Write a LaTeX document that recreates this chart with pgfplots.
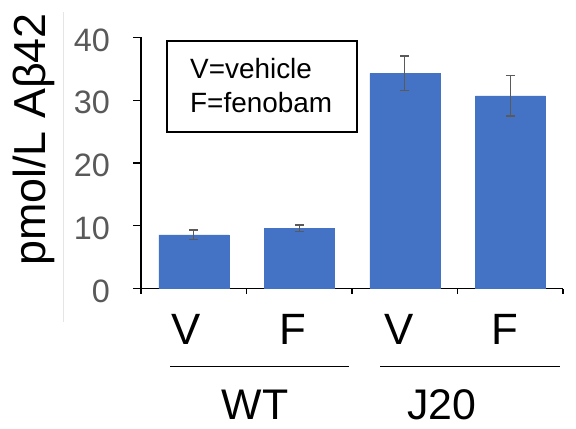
\documentclass[border=0pt]{standalone}
\usepackage{fontspec}
\setmainfont{Liberation Sans}
\usepackage{pgfplots}
\pgfplotsset{compat=1.18}
\definecolor{barblue}{HTML}{4472C4}
\definecolor{tickgray}{HTML}{595959}
\definecolor{errgray}{HTML}{5A5A5A}
\begin{document}
\begin{tikzpicture}[x=1bp,y=1bp]
\useasboundingbox (0,0) rectangle (576,428);
\fill[white] (0,0) rectangle (576,428);
\draw[black!10, line width=0.8bp] (63,106) -- (63,416);
\begin{axis}[
  at={(141bp,139.5bp)}, anchor=south west,
  scale only axis, width=422bp, height=251bp,
  xmin=-0.5, xmax=3.5, ymin=0, ymax=40,
  axis x line*=bottom, axis y line*=left,
  axis line style={black, line width=1.3bp, -},
  tick align=outside,
  tick style={black, line width=1.3bp},
  major tick length=8bp,
  ytick={0,10,20,30,40},
  yticklabel style={font=\fontsize{32.5}{38}\selectfont, text=tickgray, inner sep=0pt, xshift=-23bp, yshift=-2.5bp},
  /pgf/number format/assume math mode=true,
  xtick={-0.5,0.5,1.5,2.5,3.5}, xticklabels={},
  xtick style={/pgfplots/major tick length=5bp},
  clip=false,
]
\addplot[ybar, bar width=70bp, fill=barblue, draw=barblue,
  error bars/.cd, y dir=both, y explicit,
  error bar style={errgray, line width=1.4bp},
  error mark options={errgray, line width=1.4bp, rotate=90, mark size=4.5bp}]
coordinates {
  (0,8.55) +- (0,0.77)
  (1,9.6) +- (0,0.51)
  (2,34.3) +- (0,2.75)
  (3,30.7) +- (0,3.23)
};
\foreach \i/\t in {-0.073/V,0.936/F,1.943/V,2.95/F}{
  \edef\tmp{\noexpand\node[anchor=base, font=\noexpand\fontsize{44}{52}\noexpand\selectfont, inner sep=0, yshift=-56bp] at (axis cs:\i,0) {\t};}
  \tmp
}
\end{axis}
% y label
\node[rotate=90, font=\fontsize{45}{54}\selectfont, anchor=base, inner sep=0] at (45,288.5) {pmol/L Aβ42};
% legend box
\draw[black, line width=1.4bp] (167,296) rectangle (357,387);
\node[anchor=base west, font=\fontsize{28}{34}\selectfont, inner sep=0] at (190,349.7) {V=vehicle};
\node[anchor=base west, font=\fontsize{28}{34}\selectfont, inner sep=0] at (190,316) {F=fenobam};
% group lines
\draw[black, line width=1bp] (170,61.3) -- (349,61.3);
\draw[black, line width=1bp] (380,61.3) -- (560,61.3);
\node[anchor=base, font=\fontsize{43}{52}\selectfont, inner sep=0] at (255,8.5) {WT};
\node[anchor=base, font=\fontsize{43}{52}\selectfont, inner sep=0] at (442,8.5) {J20};
\end{tikzpicture}
\end{document}
